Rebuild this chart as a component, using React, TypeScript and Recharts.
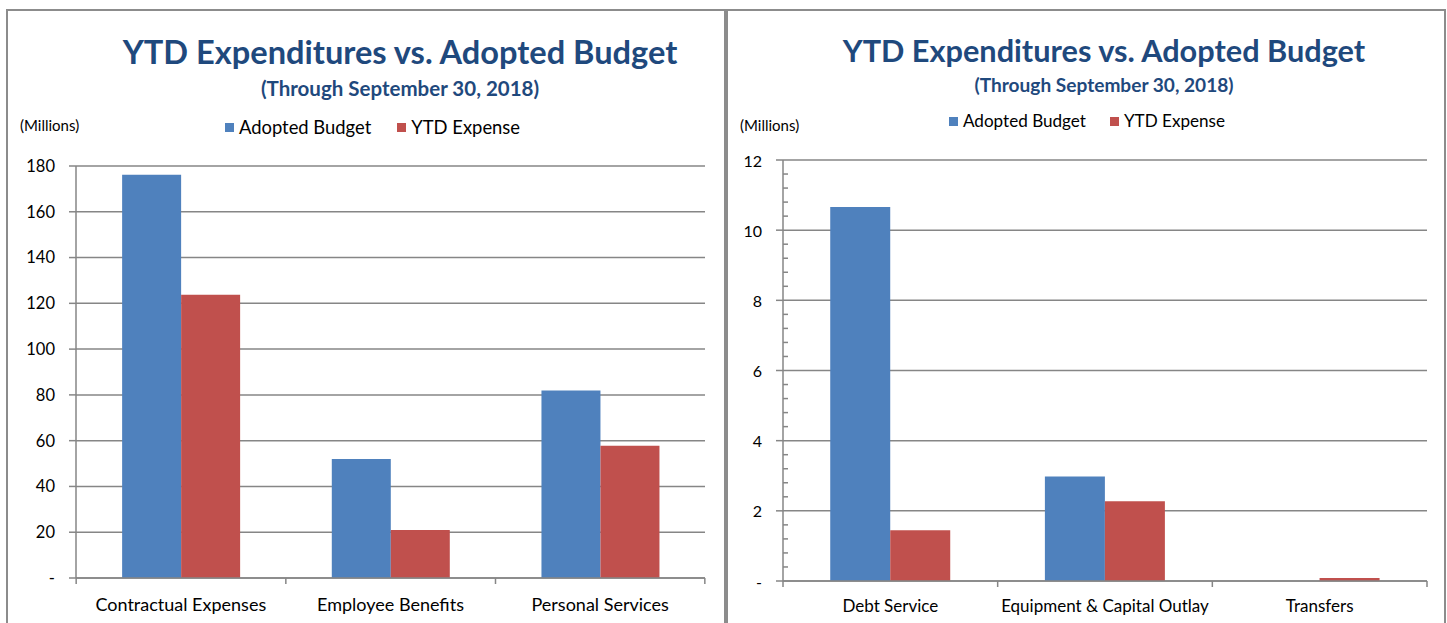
import React from 'react';
import { BarChart, Bar, XAxis, YAxis, CartesianGrid, Legend } from 'recharts';

// ---- data (millions) ----
const leftCategories = ['Contractual Expenses', 'Employee Benefits', 'Personal Services'];
const leftBudget = [176.2, 52.0, 81.9];
const leftExpense = [123.8, 21.0, 57.8];
const leftTicks = [0, 20, 40, 60, 80, 100, 120, 140, 160, 180];

const rightCategories = ['Debt Service', 'Equipment & Capital Outlay', 'Transfers'];
const rightBudget = [10.66, 2.98, 0];
const rightExpense = [1.45, 2.27, 0.085];
const rightMajorTicks = [0, 2, 4, 6, 8, 10, 12];

const TITLE = 'YTD Expenditures vs. Adopted Budget';
const SUBTITLE = '(Through September 30, 2018)';

const FONT = 'Lato, "Open Sans", sans-serif';
const BLUE = '#4F81BD';
const RED = '#C0504D';
const TITLE_COLOR = '#1F497D';
const AXIS = '#868686';

const leftData = leftCategories.map((name, i) => ({
  name,
  budget: leftBudget[i],
  expense: leftExpense[i],
}));
const rightData = rightCategories.map((name, i) => ({
  name,
  budget: rightBudget[i],
  expense: rightExpense[i],
}));

// every major step split into 5 for the small tick marks
const rightAllTicks: number[] = [];
rightMajorTicks.forEach((t, i) => {
  if (i === rightMajorTicks.length - 1) {
    rightAllTicks.push(t);
    return;
  }
  const step = (rightMajorTicks[i + 1] - t) / 5;
  for (let k = 0; k < 5; k++) rightAllTicks.push(+(t + k * step).toFixed(2));
});

const zeroDash = (v: number) => (v === 0 ? '-' : String(v));

/**
 * Category tick: label in the middle, tick marks on the band edges
 */
const makeCategoryTick = (bandWidth: number, labelOffset: number, fontSize: number) => (props: any) => {
  const { x, y, payload, index, visibleTicksCount } = props;
  const half = bandWidth / 2;
  return (
    <g>
      <line x1={x - half} x2={x - half} y1={y} y2={y + 6} stroke={AXIS} strokeWidth={1.5} />
      {index === visibleTicksCount - 1 && (
        <line x1={x + half} x2={x + half} y1={y} y2={y + 6} stroke={AXIS} strokeWidth={1.5} />
      )}
      <text
        x={x}
        y={y + labelOffset}
        textAnchor="middle"
        dominantBaseline="central"
        fill="#000"
        fontSize={fontSize}
        fontFamily={FONT}
      >
        {payload.value}
      </text>
    </g>
  );
};

/**
 * Value tick with minor marks (right chart)
 */
const MinorValueTick = (props: any) => {
  const { x, y, payload } = props;
  const major = rightMajorTicks.includes(payload.value);
  if (!major) {
    return <line x1={x} x2={x + 5} y1={y} y2={y} stroke={AXIS} strokeWidth={1.5} />;
  }
  return (
    <g>
      <line x1={x - 7} x2={x} y1={y} y2={y} stroke={AXIS} strokeWidth={1.5} />
      <text
        x={x - 21}
        y={y}
        textAnchor="end"
        dominantBaseline="central"
        fill="#000"
        fontSize={16}
        fontFamily={FONT}
      >
        {zeroDash(payload.value)}
      </text>
    </g>
  );
};

const makeLegend = (fontSize: number, gap: number) => (props: any) => (
  <div
    style={{
      display: 'flex',
      justifyContent: 'center',
      gap,
      fontFamily: FONT,
      fontSize,
      color: '#000',
      lineHeight: '22px',
    }}
  >
    {(props.payload || []).map((entry: any) => (
      <span key={entry.value} style={{ display: 'flex', alignItems: 'center' }}>
        <span style={{ width: 9, height: 9, background: entry.color, marginRight: 5 }} />
        {entry.value}
      </span>
    ))}
  </div>
);

const Titles = ({ cx, top, size, subSize, subGap }: { cx: number; top: number; size: number; subSize: number; subGap: number }) => (
  <>
    <div
      style={{
        position: 'absolute',
        left: cx - 400,
        width: 800,
        top,
        textAlign: 'center',
        fontFamily: FONT,
        fontWeight: 700,
        fontSize: size,
        lineHeight: '38px',
        color: TITLE_COLOR,
      }}
    >
      {TITLE}
    </div>
    <div
      style={{
        position: 'absolute',
        left: cx - 400,
        width: 800,
        top: top + subGap,
        textAlign: 'center',
        fontFamily: FONT,
        fontWeight: 700,
        fontSize: subSize,
        lineHeight: '24px',
        color: TITLE_COLOR,
      }}
    >
      {SUBTITLE}
    </div>
  </>
);

const Millions = ({ left, top }: { left: number; top: number }) => (
  <div
    style={{
      position: 'absolute',
      left,
      top,
      fontFamily: FONT,
      fontSize: 15,
      color: '#000',
      lineHeight: '18px',
    }}
  >
    (Millions)
  </div>
);

export default function App() {
  return (
    <div
      style={{
        position: 'absolute',
        left: 0,
        top: 0,
        width: 1447,
        height: 623,
        background: '#fff',
        overflow: 'hidden',
      }}
    >
      {/* frame */}
      <div
        style={{
          position: 'absolute',
          left: 6,
          top: 9,
          width: 1436,
          height: 700,
          border: '2px solid #8c8c8c',
        }}
      />
      <div style={{ position: 'absolute', left: 724, top: 9, width: 4, height: 700, background: '#8c8c8c' }} />

      {/* left chart */}
      <div style={{ position: 'absolute', left: 0, top: 0 }}>
        <BarChart
          width={725}
          height={623}
          data={leftData}
          margin={{ top: 166, right: 20, bottom: 0, left: 0 }}
          barCategoryGap="22%"
          barGap={0}
        >
          <CartesianGrid vertical={false} stroke={AXIS} strokeWidth={1.5} />
          <XAxis
            dataKey="name"
            height={45}
            axisLine={{ stroke: AXIS, strokeWidth: 1.5 }}
            tickLine={false}
            tickSize={0}
            tickMargin={0}
            interval={0}
            tick={makeCategoryTick(628 / 3, 26, 18)}
          />
          <YAxis
            width={76}
            domain={[0, 180]}
            ticks={leftTicks}
            interval={0}
            tickFormatter={zeroDash}
            axisLine={{ stroke: AXIS, strokeWidth: 1.5 }}
            tickLine={{ stroke: AXIS, strokeWidth: 1.5 }}
            tickSize={7}
            tickMargin={14}
            tick={{ fill: '#000', fontSize: 16.5, fontFamily: FONT }}
          />
          <Legend
            verticalAlign="middle"
            content={makeLegend(18.4, 26)}
            wrapperStyle={{ top: 116, left: 0, width: 745 }}
          />
          <Bar dataKey="budget" name="Adopted Budget" fill={BLUE} isAnimationActive={false} />
          <Bar dataKey="expense" name="YTD Expense" fill={RED} isAnimationActive={false} />
        </BarChart>
      </div>
      <Titles cx={400} top={33} size={32.6} subSize={20.5} subGap={43} />
      <Millions left={20} top={116} />

      {/* right chart */}
      <div style={{ position: 'absolute', left: 726, top: 0 }}>
        <BarChart
          width={721}
          height={623}
          data={rightData}
          margin={{ top: 160, right: 20, bottom: 0, left: 0 }}
          barCategoryGap="22%"
          barGap={0}
        >
          <CartesianGrid
            vertical={false}
            stroke={AXIS}
            strokeWidth={1.5}
            horizontalValues={rightMajorTicks}
          />
          <XAxis
            dataKey="name"
            height={42}
            axisLine={{ stroke: AXIS, strokeWidth: 1.5 }}
            tickLine={false}
            tickSize={0}
            tickMargin={0}
            interval={0}
            tick={makeCategoryTick(644 / 3, 24, 17)}
          />
          <YAxis
            width={57}
            domain={[0, 12]}
            ticks={rightAllTicks}
            interval={0}
            axisLine={{ stroke: AXIS, strokeWidth: 1.5 }}
            tickLine={false}
            tickSize={0}
            tickMargin={0}
            tick={<MinorValueTick />}
          />
          <Legend
            verticalAlign="middle"
            content={makeLegend(17.1, 24)}
            wrapperStyle={{ top: 110, left: 0, width: 722 }}
          />
          <Bar dataKey="budget" name="Adopted Budget" fill={BLUE} isAnimationActive={false} />
          <Bar dataKey="expense" name="YTD Expense" fill={RED} isAnimationActive={false} />
        </BarChart>
      </div>
      <Titles cx={1104} top={32} size={30.7} subSize={19.1} subGap={41} />
      <Millions left={740} top={116} />
    </div>
  );
}
